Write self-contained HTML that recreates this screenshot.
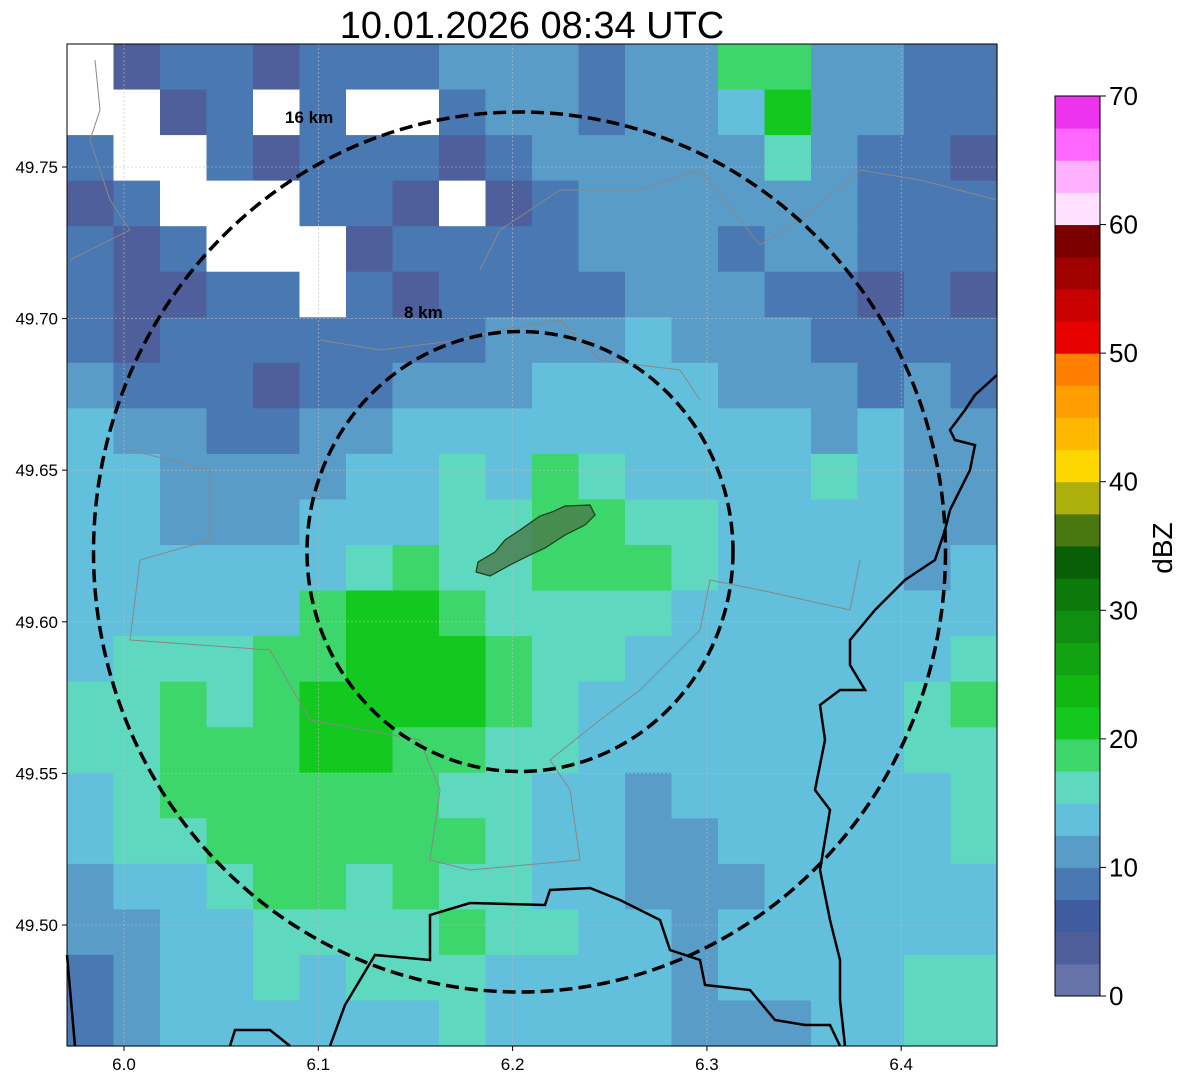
<!DOCTYPE html>
<html><head><meta charset="utf-8"><style>
body{margin:0;background:#fff;font-family:"Liberation Sans",sans-serif;}
svg{display:block}
</style></head><body>
<svg id="chart" width="1188" height="1084" xmlns="http://www.w3.org/2000/svg">
<text x="532" y="38" font-size="38" text-anchor="middle" font-family="Liberation Sans, sans-serif">10.01.2026 08:34 UTC</text>
<g id="field"></g>
<g id="grid"></g>
<g id="overlay"></g>
<g id="axes"></g>
<g id="cbar"></g>
</svg>
<script>
const xTicks=[6.0,6.1,6.2,6.3,6.4];
const yTicks=[49.50,49.55,49.60,49.65,49.70,49.75];
const cbTicks=[0,10,20,30,40,50,60,70];
const cbColors=['#6573a8','#4e5f9c','#3f5ca1','#4a78b3','#5a9cc8','#62c0dc','#5fd8c0','#3dd66a','#13c81e','#10b810','#11a311','#0f8e0f','#0b7a0b','#085f08','#4a7710','#adb00b','#ffd700','#ffb800','#ff9e00','#ff7f00','#e60000','#c80000','#a00000','#7a0000','#ffe0ff','#ffb0ff','#ff66ff','#ee33ee'];
const levelDbz=[null,3,8,11,14,16,19,21];
const fieldRows=[
"01221222333233663322",
"00120200233233473322",
"20021222123333353221",
"12000221012333333222",
"21200012222333233222",
"21122021222233322121",
"21222222233343332222",
"32221223334444333232",
"43322334444444443433",
"44333344546544445433",
"44333444556655444433",
"44444456556665444434",
"44444677655554444444",
"45556677765544444445",
"55656777765444444456",
"55666776655444444455",
"45666666554434444445",
"45566666654433444445",
"34456656554433344444",
"33445555655443444444",
"23445455544443444455",
"23444444544443334455"];
const X0=67,X1=997,Y0=44,Y1=1046;
const lon2x=v=>124+(v-6.0)*1943;
const lat2y=v=>167+(49.75-v)*3032;
const NS="http://www.w3.org/2000/svg";
function mk(t,a,p){const e=document.createElementNS(NS,t);for(const k in a)e.setAttribute(k,a[k]);p.appendChild(e);return e;}
function colorFor(d){if(d==null)return '#ffffff';let i=Math.floor(d/2.5);i=Math.max(0,Math.min(cbColors.length-1,i));return cbColors[i];}
const field=document.getElementById('field');
const nr=fieldRows.length,nc=fieldRows[0].length;
const cw=(X1-X0)/nc,ch=(Y1-Y0)/nr;
fieldRows.forEach((row,r)=>{[...row].forEach((c,k)=>{
 const d=levelDbz[+c];
 const rc=mk('rect',{x:X0+k*cw,y:Y0+r*ch,width:cw+0.6,height:ch+0.6,fill:colorFor(d)},field);
 
 
});});
const grid=document.getElementById('grid');
xTicks.forEach(v=>{const l=mk('line',{x1:lon2x(v),x2:lon2x(v),y1:Y0,y2:Y1,stroke:'#bbb','stroke-width':0.6,'stroke-dasharray':'2,2'},grid);});
yTicks.forEach(v=>{const l=mk('line',{x1:X0,x2:X1,y1:lat2y(v),y2:lat2y(v),stroke:'#bbb','stroke-width':0.6,'stroke-dasharray':'2,2'},grid);});
const ov=document.getElementById('overlay');
function pl(pts,attrs,name){const e=mk('polyline',Object.assign({points:pts,fill:'none'},attrs),ov);}
pl("997,375 975,395 965,410 950,430 955,440 975,445 970,470 950,510 945,530 935,560 905,580 875,610 850,640 850,665 865,690 840,690 820,705 825,740 815,790 830,810 820,870 830,920 840,960 840,1000 845,1046",{stroke:'#000','stroke-width':2.5},'river-border');
pl("67,955 75,1046",{stroke:'#000','stroke-width':2.5},'border-sw');
pl("330,1046 345,1005 375,955 430,960 430,915 470,903 545,905 550,890 590,888 620,900 660,920 670,950 700,960 705,985 750,990 775,1020 805,1025 830,1025 840,1046",{stroke:'#000','stroke-width':2.5},'border-south');
pl("230,1046 235,1030 270,1030 290,1046",{stroke:'#000','stroke-width':2.5},'border-south-2');
pl("95,60 100,110 90,140 110,200 130,230 70,260",{stroke:'#888','stroke-width':1},'admin-line');
pl("130,450 210,470 210,540 140,560 130,640 270,650 310,720 420,740 440,790 430,860 470,870 580,860 570,790 550,760 600,720 640,690 700,630 710,580 760,590 850,610 860,560",{stroke:'#888','stroke-width':1},'admin-line');
pl("320,340 380,350 460,340 500,330 560,320 600,360 680,370 700,400",{stroke:'#888','stroke-width':1},'admin-line');
pl("480,270 500,230 560,190 640,190 700,170 760,245 800,220 860,170 920,180 997,200",{stroke:'#888','stroke-width':1},'admin-line');
const town=mk('polygon',{points:"476,572 478,562 495,552 505,540 520,530 540,516 552,512 565,506 590,505 595,515 585,525 565,535 545,548 530,555 510,565 490,576",fill:'#4a7a4a','fill-opacity':0.8,stroke:'#1a3a1a','stroke-width':1.2},ov);

const c1=mk('ellipse',{cx:520,cy:551.5,rx:213,ry:220,fill:'none',stroke:'#000','stroke-width':3.5,'stroke-dasharray':'13,6'},ov);

const c2=mk('ellipse',{cx:519.5,cy:552,rx:426,ry:440,fill:'none',stroke:'#000','stroke-width':3.5,'stroke-dasharray':'13,6'},ov);

const t1=mk('text',{x:285,y:123,'font-size':17,'font-weight':'bold'},ov);t1.textContent='16 km';
const t2=mk('text',{x:404,y:318,'font-size':17,'font-weight':'bold'},ov);t2.textContent='8 km';
const ax=document.getElementById('axes');
const fr=mk('rect',{x:X0,y:Y0,width:X1-X0,height:Y1-Y0,fill:'none',stroke:'#000','stroke-width':1},ax);

xTicks.forEach(v=>{const x=lon2x(v);mk('line',{x1:x,x2:x,y1:Y1,y2:Y1+5,stroke:'#000'},ax);
 const t=mk('text',{x:x,y:Y1+24,'font-size':17,'text-anchor':'middle'},ax);t.textContent=v.toFixed(1);
 });
yTicks.forEach(v=>{const y=lat2y(v);mk('line',{x1:X0-5,x2:X0,y1:y,y2:y,stroke:'#000'},ax);
 const t=mk('text',{x:X0-9,y:y+6,'font-size':17,'text-anchor':'end'},ax);t.textContent=v.toFixed(2);
 });
const cb=document.getElementById('cbar');
const CB0=996,CB1=96,cbx=1055,cbw=45,vmax=70;
const cby=v=>CB0-(v/vmax)*(CB0-CB1);
cbColors.forEach((c,i)=>{const y1=cby((i+1)*2.5),y0=cby(i*2.5);
 const r=mk('rect',{x:cbx,y:y1,width:cbw,height:y0-y1+0.5,fill:c},cb);
 });
const cf=mk('rect',{x:cbx,y:CB1,width:cbw,height:CB0-CB1,fill:'none',stroke:'#000','stroke-width':1},cb);

cbTicks.forEach(v=>{const y=cby(v);mk('line',{x1:cbx+cbw,x2:cbx+cbw+6,y1:y,y2:y,stroke:'#000'},cb);
 const t=mk('text',{x:cbx+cbw+9,y:y+9,'font-size':26},cb);t.textContent=v;
 });
const lab=mk('text',{x:1172,y:548,'font-size':28,'text-anchor':'middle',transform:'rotate(-90 1172 548)'},cb);
lab.textContent='dBZ';
</script>
</body></html>
